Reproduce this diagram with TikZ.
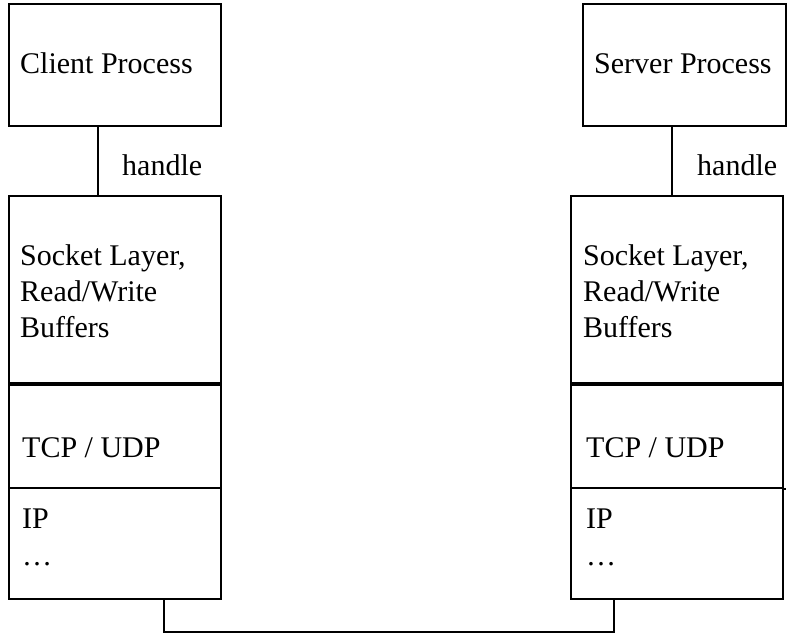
\documentclass[tikz,border=0pt]{standalone}
\usepackage{fontspec}
\setmainfont{Liberation Serif}
\begin{document}
\begin{tikzpicture}[x=1pt,y=-1pt,
  box/.style={draw,line width=2pt,rectangle,anchor=north west,inner sep=0pt},
  lbl/.style={anchor=base west,inner sep=0pt,font=\fontsize{30}{36}\selectfont},
  wire/.style={line width=2pt}]
\useasboundingbox (0,0) rectangle (787,635);
% client
\node[box,minimum width=212pt,minimum height=122pt] (cp) at (8,3) {};
\node[box,minimum width=212pt,minimum height=189pt] (cs) at (8,195) {};
\node[box,minimum width=212pt,minimum height=103pt] (ct) at (8,384) {};
\node[box,minimum width=212pt,minimum height=111pt] (ci) at (8,487) {};
\draw[line width=3.5pt] (ct.north west) -- (ct.north east);
% server
\node[box,minimum width=203pt,minimum height=122pt] (sp) at (582,3) {};
\node[box,minimum width=212pt,minimum height=189pt] (ss) at (570,195) {};
\node[box,minimum width=212pt,minimum height=103pt] (st) at (570,384) {};
\node[box,minimum width=212pt,minimum height=111pt] (si) at (570,487) {};
\draw[line width=3.5pt] (st.north west) -- (st.north east);
\draw[line width=2pt] (st.south east) -- ++(2,0);
% labels
\node[lbl] (tcp) at (20,73) {Client Process};
\node[lbl] (tch) at (122,175) {handle};
\node[lbl,align=left] (tcs) at (20,337) {Socket Layer,\\Read/Write\\Buffers};
\node[lbl] (tct) at (22,457) {TCP / UDP};
\node[lbl] (tci) at (22,528) {IP};
\node[lbl] (tcd) at (22,565) {…};
\node[lbl] (tsp) at (594,73) {Server Process};
\node[lbl] (tsh) at (697,175) {handle};
\node[lbl,align=left] (tss) at (583,337) {Socket Layer,\\Read/Write\\Buffers};
\node[lbl] (tst) at (586,457) {TCP / UDP};
\node[lbl] (tsi) at (586,528) {IP};
\node[lbl] (tsd) at (586,565) {…};
% connectors
\coordinate (ca) at ([xshift=90pt]cp.south west);
\coordinate (sa) at ([xshift=90pt]sp.south west);
\draw[wire] (ca) -- (ca |- cs.north);
\draw[wire] (sa) -- (sa |- ss.north);
\coordinate (cb) at ([xshift=156pt]ci.south west);
\coordinate (sb) at ([xshift=44pt]si.south west);
\coordinate (bus) at (0,632);
\draw[wire] (cb) -- (cb |- bus) -- (sb |- bus) -- (sb);
\end{tikzpicture}
\end{document}
